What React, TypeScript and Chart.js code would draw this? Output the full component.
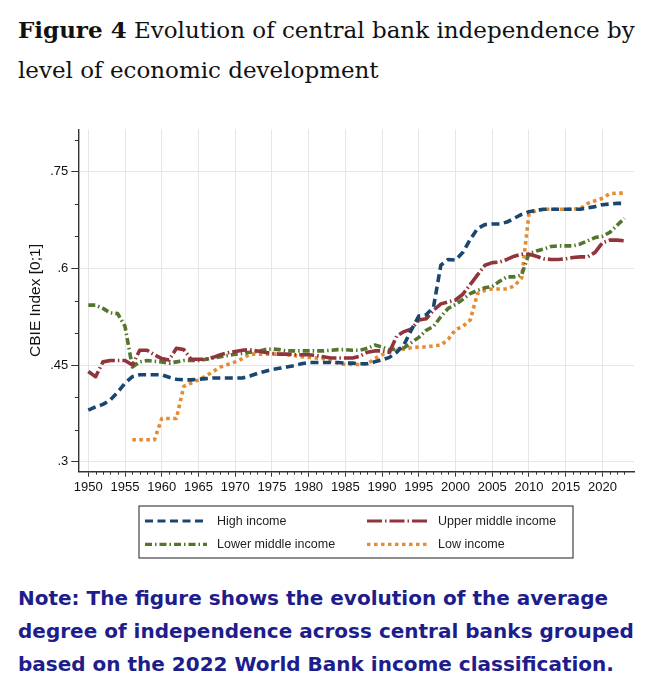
import { useEffect, useRef } from 'react'
import { Chart, registerables } from 'chart.js'

Chart.register(...registerables)

// years 1950..2023, one value per year
const years = Array.from({ length: 74 }, (_, i) => 1950 + i)

const highIncome = [
  0.380, 0.385, 0.389, 0.396, 0.408, 0.422, 0.432, 0.435, 0.435, 0.435,
  0.435, 0.431, 0.428, 0.427, 0.427, 0.428, 0.429, 0.430, 0.430, 0.430,
  0.430, 0.430, 0.433, 0.437, 0.440, 0.443, 0.445, 0.447, 0.449, 0.452,
  0.454, 0.454, 0.454, 0.454, 0.454, 0.453, 0.453, 0.452, 0.452, 0.455,
  0.458, 0.462, 0.470, 0.482, 0.505, 0.526, 0.528, 0.540, 0.605, 0.614,
  0.613, 0.625, 0.645, 0.662, 0.668, 0.669, 0.669, 0.672, 0.678, 0.684,
  0.688, 0.690, 0.692, 0.692, 0.692, 0.692, 0.692, 0.692, 0.694, 0.696,
  0.699, 0.700, 0.701, 0.701,
]

const upperMiddle = [
  0.440, 0.432, 0.455, 0.457, 0.457, 0.457, 0.450, 0.473, 0.473, 0.466,
  0.460, 0.458, 0.476, 0.474, 0.459, 0.459, 0.459, 0.462, 0.466, 0.469,
  0.471, 0.473, 0.474, 0.472, 0.470, 0.468, 0.467, 0.467, 0.466, 0.466,
  0.466, 0.465, 0.463, 0.461, 0.461, 0.461, 0.461, 0.464, 0.470, 0.472,
  0.472, 0.470, 0.495, 0.502, 0.506, 0.520, 0.522, 0.535, 0.545, 0.548,
  0.551, 0.560, 0.575, 0.590, 0.605, 0.609, 0.610, 0.614, 0.619, 0.622,
  0.622, 0.619, 0.615, 0.614, 0.614, 0.615, 0.617, 0.618, 0.618, 0.625,
  0.640, 0.644, 0.644, 0.643,
]

const lowerMiddle = [
  0.543, 0.543, 0.538, 0.531, 0.530, 0.510, 0.447, 0.455, 0.457, 0.456,
  0.455, 0.453, 0.455, 0.457, 0.457, 0.457, 0.459, 0.461, 0.463, 0.465,
  0.467, 0.468, 0.470, 0.471, 0.474, 0.475, 0.474, 0.472, 0.472, 0.472,
  0.472, 0.472, 0.472, 0.473, 0.474, 0.474, 0.473, 0.473, 0.476, 0.481,
  0.478, 0.474, 0.475, 0.477, 0.485, 0.493, 0.504, 0.510, 0.525, 0.538,
  0.544, 0.552, 0.561, 0.566, 0.570, 0.572, 0.580, 0.587, 0.587, 0.590,
  0.623, 0.627, 0.630, 0.634, 0.635, 0.635, 0.635, 0.638, 0.643, 0.648,
  0.650, 0.656, 0.667, 0.678,
]

const lowIncome = [
  null, null, null, null, null, null, 0.334, 0.334, 0.334, 0.334,
  0.367, 0.367, 0.367, 0.417, 0.422, 0.427, 0.433, 0.440, 0.447, 0.451,
  0.455, 0.460, 0.467, 0.467, 0.467, 0.467, 0.467, 0.466, 0.465, 0.463,
  0.462, 0.461, 0.460, 0.456, 0.453, 0.451, 0.451, 0.451, 0.452, 0.460,
  0.466, 0.470, 0.473, 0.475, 0.477, 0.478, 0.478, 0.480, 0.481, 0.490,
  0.505, 0.510, 0.520, 0.561, 0.566, 0.568, 0.568, 0.568, 0.573, 0.585,
  0.685, 0.690, 0.692, 0.692, 0.692, 0.692, 0.692, 0.693, 0.701, 0.705,
  0.709, 0.716, 0.717, 0.717,
]

const xMajorTicks = [1950, 1955, 1960, 1965, 1970, 1975, 1980, 1985, 1990, 1995, 2000, 2005, 2010, 2015, 2020]
const yMajorTicks = [0.3, 0.45, 0.6, 0.75]
const yMinorTicks = [0.35, 0.4, 0.5, 0.55, 0.65, 0.7, 0.8]

const seriesLabels = ['High income', 'Upper middle income', 'Lower middle income', 'Low income']
const seriesColors = ['#1a476f', '#90353b', '#55752f', '#e58b32']
const seriesDashes = [
  [8, 4.5],
  [15, 3, 1.5, 3],
  [7, 3, 1.5, 3],
  [3.5, 3.5],
]

const AXIS = '#333333'
const SANS = '"Liberation Sans", Arial, sans-serif'
const TICK_FONT = { family: SANS, size: 13 }

// small yearly ticks and the boxed 2x2 legend, Stata style
const stataExtras = {
  id: 'stataExtras',
  afterDraw(chart: Chart) {
    const { ctx, scales } = chart
    const x = scales.x
    const y = scales.y
    ctx.save()
    ctx.strokeStyle = AXIS
    ctx.lineWidth = 1
    years.forEach((yr) => {
      if (yr % 5 === 0) return
      const px = Math.round(x.getPixelForValue(yr)) + 0.5
      ctx.beginPath()
      ctx.moveTo(px, y.bottom)
      ctx.lineTo(px, y.bottom + 3)
      ctx.stroke()
    })
    yMinorTicks.forEach((v) => {
      const py = Math.round(y.getPixelForValue(v)) + 0.5
      ctx.beginPath()
      ctx.moveTo(x.left - 3.5, py)
      ctx.lineTo(x.left, py)
      ctx.stroke()
    })

    // legend box
    const box = { left: 139, top: 406, right: 573, bottom: 458 }
    ctx.strokeStyle = '#444'
    ctx.lineWidth = 1.2
    ctx.strokeRect(box.left, box.top, box.right - box.left, box.bottom - box.top)
    const cols = [{ x0: 145, x1: 207, tx: 217 }, { x0: 367, x1: 428, tx: 438 }]
    const rows = [421, 444.3]
    ctx.font = `12.5px ${SANS}`
    ctx.textBaseline = 'middle'
    chart.data.datasets.forEach((ds, i) => {
      const c = cols[i % 2]
      const ry = rows[Math.floor(i / 2)]
      ctx.strokeStyle = ds.borderColor as string
      ctx.lineWidth = 3.2
      ctx.lineCap = 'butt'
      ctx.setLineDash((ds as any).borderDash || [])
      ctx.beginPath()
      ctx.moveTo(c.x0, ry)
      ctx.lineTo(c.x1, ry)
      ctx.stroke()
      ctx.setLineDash([])
      ctx.fillStyle = '#1e1e1e'
      ctx.fillText(ds.label as string, c.tx, ry + 0.5)
    })
    ctx.restore()
  },
}

function CbieChart() {
  const canvasRef = useRef<HTMLCanvasElement>(null)
  const chartRef = useRef<Chart | null>(null)

  useEffect(() => {
    if (!canvasRef.current) return
    if (chartRef.current) chartRef.current.destroy()

    const series = [highIncome, upperMiddle, lowerMiddle, lowIncome]

    chartRef.current = new Chart(canvasRef.current, {
      type: 'line',
      data: {
        labels: years,
        datasets: series.map((data, i) => ({
          label: seriesLabels[i],
          data,
          borderColor: seriesColors[i],
          borderDash: seriesDashes[i],
          borderWidth: 3.6,
          borderCapStyle: 'butt',
          borderJoinStyle: 'round',
          pointRadius: 0,
          fill: false,
          tension: 0,
        })),
      },
      options: {
        animation: false,
        responsive: true,
        maintainAspectRatio: false,
        layout: { padding: { top: 29.3, right: 25, bottom: 68.3, left: 0 } },
        plugins: {
          legend: { display: false },
          tooltip: { enabled: false },
        },
        scales: {
          x: {
            type: 'linear',
            min: 1948.64,
            max: 2024.3,
            afterBuildTicks: (s) => {
              s.ticks = xMajorTicks.map((v) => ({ value: v }))
            },
            afterFit: (s) => {
              s.height = 30
            },
            ticks: {
              callback: (v) => String(v),
              font: TICK_FONT,
              color: '#111',
              maxRotation: 0,
              autoSkip: false,
              padding: 3,
            },
            grid: { color: '#e6e6e6', lineWidth: 1, tickLength: 5, tickColor: AXIS, tickWidth: 1 },
            border: { color: AXIS, width: 1.4 },
          },
          y: {
            min: 0.2845,
            max: 0.816,
            afterBuildTicks: (s) => {
              s.ticks = yMajorTicks.map((v) => ({ value: v }))
            },
            afterFit: (s) => {
              s.width = 78.3
            },
            ticks: {
              callback: (v) => String(v).replace(/^0\./, '.'),
              font: TICK_FONT,
              color: '#111',
              padding: 3,
            },
            grid: { color: '#e6e6e6', lineWidth: 1, tickLength: 7, tickColor: AXIS, tickWidth: 1 },
            border: { color: AXIS, width: 1.4 },
            title: {
              display: true,
              text: 'CBIE Index [0;1]',
              color: '#111',
              font: { family: SANS, size: 15.5 },
              padding: { top: 26, bottom: 0 },
            },
          },
        },
      },
      plugins: [stataExtras],
    })

    return () => {
      if (chartRef.current) {
        chartRef.current.destroy()
        chartRef.current = null
      }
    }
  }, [])

  return <canvas ref={canvasRef}></canvas>
}

export default function App() {
  return (
    <div style={{ position: 'absolute', left: 0, top: 0, width: 659, height: 680, background: '#fff', overflow: 'hidden' }}>
      <div
        style={{
          position: 'absolute',
          left: 18,
          top: 10,
          width: 640,
          fontFamily: '"DejaVu Serif", serif',
          fontSize: 23,
          lineHeight: '40px',
          color: '#111',
          whiteSpace: 'nowrap',
        }}
      >
        <b>Figure 4</b> Evolution of central bank independence by
        <br />
        level of economic development
      </div>
      <div style={{ position: 'absolute', left: 0, top: 100, width: 659, height: 470 }}>
        <CbieChart />
      </div>
      <div
        style={{
          position: 'absolute',
          left: 18,
          top: 582,
          width: 640,
          fontFamily: '"DejaVu Sans", sans-serif',
          fontWeight: 700,
          fontSize: 20,
          lineHeight: '33px',
          color: '#1d1d8c',
          whiteSpace: 'nowrap',
        }}
      >
        Note: The figure shows the evolution of the average
        <br />
        degree of independence across central banks grouped
        <br />
        based on the 2022 World Bank income classification.
      </div>
    </div>
  )
}
